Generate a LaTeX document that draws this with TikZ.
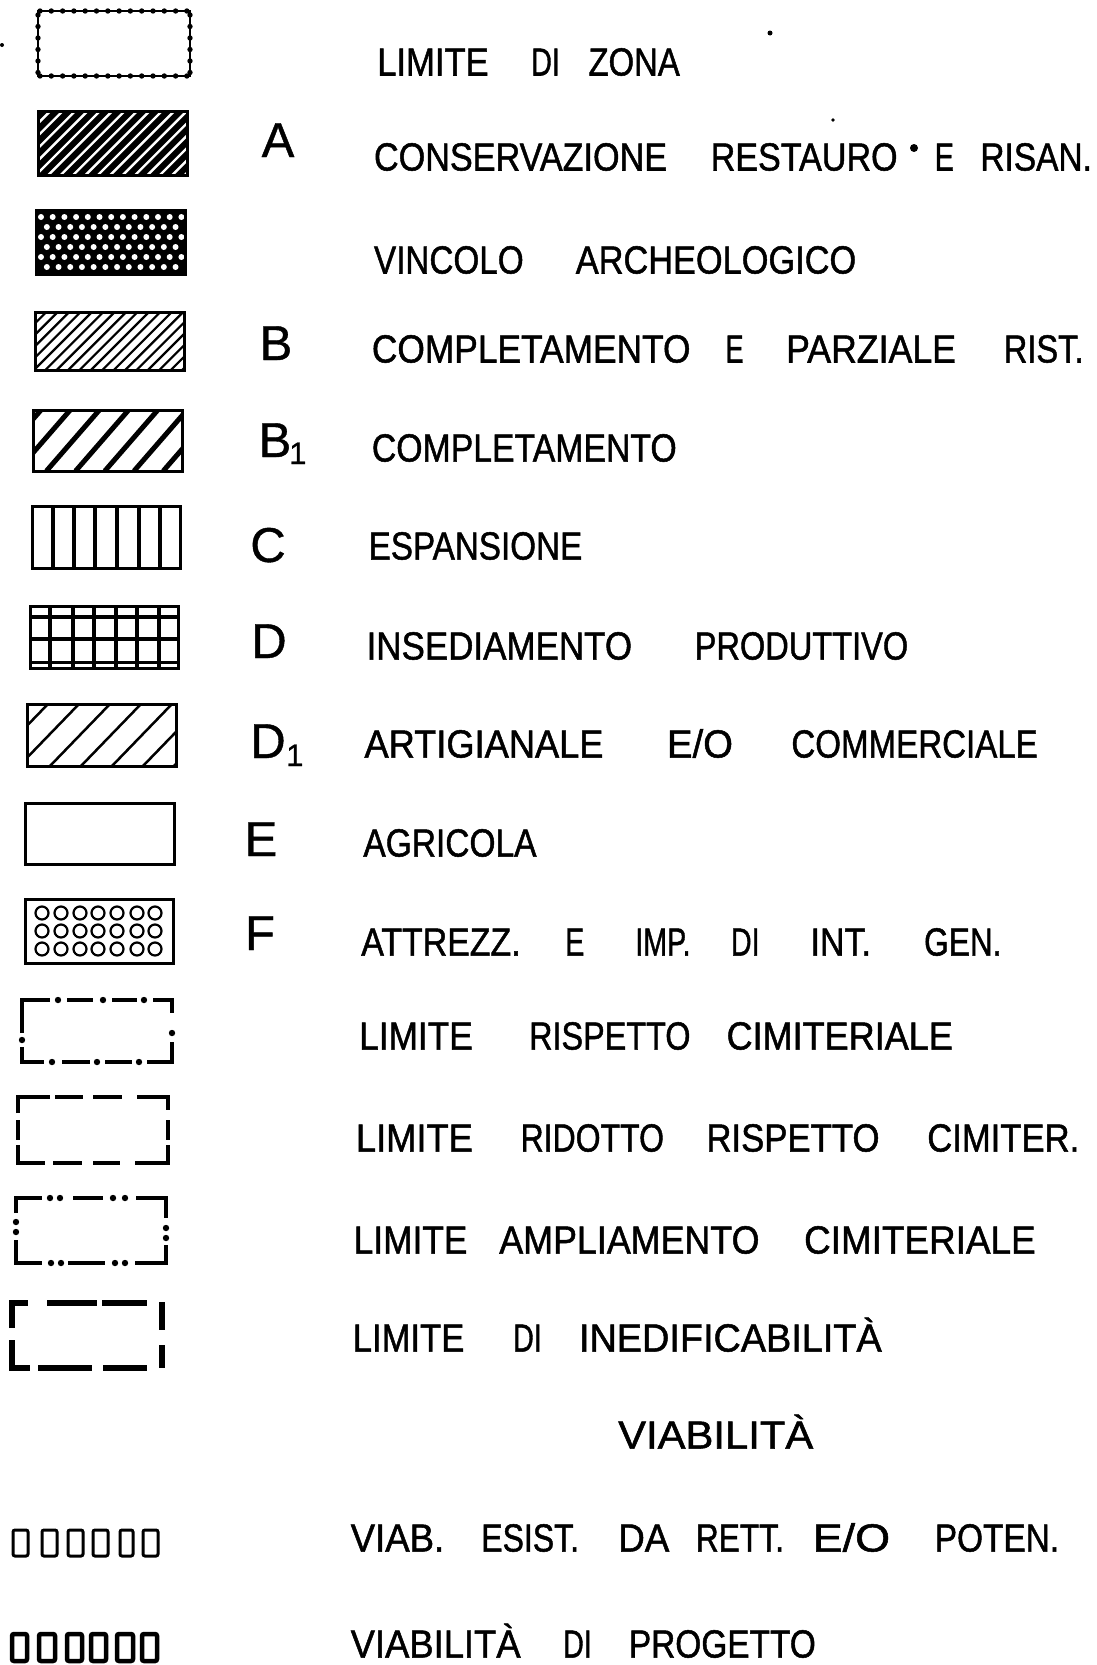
\documentclass[tikz,border=0pt]{standalone}
\usepackage{fontspec}
\usepackage{graphicx}
\setmainfont{Liberation Sans}
\newfontfamily\lblf{Liberation Sans}[FakeBold=1.3]
\newfontfamily\zonef{Liberation Sans}[FakeBold=0.8]
\newcommand\txtsize{\lblf\fontsize{39.2pt}{40pt}\selectfont}
\newcommand\bigsize{\zonef\fontsize{49pt}{50pt}\selectfont}
\newcommand\subsize{\zonef\fontsize{31pt}{32pt}\selectfont}
% word: name, x, width, baseline y, text
\newcommand\wrd[5]{\node[txt] (#1) at (#2,#4) {\resizebox{#3pt}{\height}{#5}};}
\begin{document}
\begin{tikzpicture}[x=1pt,y=-1pt,
  txt/.style={inner sep=0pt, anchor=base west, font=\txtsize},
  zl/.style={inner sep=0pt, anchor=base, font=\bigsize},
  zsub/.style={inner sep=0pt, anchor=base west, font=\subsize},
  bord/.style={line width=3pt, line join=miter},
  lim/.style={line width=4.5pt, line join=miter},
  limb/.style={line width=6pt, line join=miter},
  sq/.style={rounded corners=2pt, line width=3pt},
  sqb/.style={rounded corners=2pt, line width=4.5pt}]
\useasboundingbox (0,0) rectangle (1097,1665);
\fill[white] (0,0) rectangle (1097,1665);

% ---------- symbol 1: limite di zona ----------
\draw[line width=1.8pt] (38,11) rectangle (190,76);
\foreach \k in {0,...,13} \fill ({40+\k*11.3},11) circle (2.7);
\foreach \k in {0,...,13} \fill ({40+\k*11.3},76) circle (2.7);
\foreach \k in {0,...,5} \fill (38,{15+\k*11.5}) circle (2.7);
\foreach \k in {0,...,5} \fill (190,{15+\k*11.5}) circle (2.7);

% ---------- symbol A ----------
\begin{scope}
  \clip (38,111) rectangle (187,175);
  \fill (38,111) rectangle (187,175);
  \foreach \i in {0,...,18} \draw[white, line width=2.4pt] ({-26+\i*12.4},175) -- ++(64,-64);
\end{scope}
\draw[bord] (38,111) rectangle (187,175);

% ---------- vincolo archeologico ----------
\begin{scope}
  \clip (36,210) rectangle (185,274);
  \fill (36,210) rectangle (185,274);
  \foreach \r in {0,...,5} \foreach \c in {0,...,12}
    \fill[white] ({41+\c*11.7+mod(\r,2)*5.85},{217+\r*10}) circle (3);
\end{scope}
\draw[bord] (36,210) rectangle (185,274);

% ---------- symbol B ----------
\begin{scope}
  \clip (35,312) rectangle (184,370);
  \foreach \i in {0,...,18} \draw[line width=2.2pt] ({-23+\i*11.4},370) -- ++(58,-58);
\end{scope}
\draw[bord] (35,312) rectangle (184,370);

% ---------- symbol B1 ----------
\begin{scope}
  \clip (33,410) rectangle (182,471);
  \foreach \i in {0,...,6} \draw[line width=5pt] ({-12+\i*29.2},471) -- ++(53,-61);
\end{scope}
\draw[bord] (33,410) rectangle (182,471);

% ---------- symbol C ----------
\foreach \xx in {53,74,95,117,139,160} \draw[line width=3.5pt] (\xx,506) -- (\xx,568);
\draw[bord] (32,506) rectangle (180,568);

% ---------- symbol D ----------
\foreach \xx in {50,73,94,116,137,159} \draw[line width=4pt] (\xx,606) -- (\xx,668);
\foreach \yy in {617,639} \draw[line width=4pt] (30,\yy) -- (178,\yy);
\draw[line width=3pt] (30,662) -- (178,662);
\draw[bord] (30,606) rectangle (178,668);

% ---------- symbol D1 ----------
\begin{scope}
  \clip (27,704) rectangle (176,766);
  \foreach \i in {0,...,6} \draw[line width=2.5pt] ({-12+\i*31},766) -- ++(60,-62);
\end{scope}
\draw[bord] (27,704) rectangle (176,766);

% ---------- symbol E ----------
\draw[bord] (25,803) rectangle (174,864);

% ---------- symbol F ----------
\foreach \xx in {42,61,80,98,117,137,155}
  \foreach \yy in {913,931,949}
    \draw[line width=2.2pt] (\xx,\yy) circle (6.5);
\draw[bord] (25,899) rectangle (173,963);

% ---------- limite rispetto cimiteriale ----------
\draw[lim] (22,1033) -- (22,1000) -- (50,1000);
\draw[lim] (67,1000) -- (93,1000);
\draw[lim] (112,1000) -- (137,1000);
\draw[lim] (153,1000) -- (172,1000) -- (172,1013);
\foreach \xx in {58,103,144} \fill (\xx,1000) circle (3.2);
\fill (22,1040) circle (3.2);
\fill (172,1033) circle (3.2);
\draw[lim] (22,1047) -- (22,1062) -- (44,1062);
\draw[lim] (62,1062) -- (90,1062);
\draw[lim] (105,1062) -- (132,1062);
\draw[lim] (147,1062) -- (172,1062) -- (172,1042);
\foreach \xx in {52,97,139} \fill (\xx,1062) circle (3.2);

% ---------- limite ridotto rispetto cimiter. ----------
\draw[lim] (18,1113) -- (18,1097) -- (50,1097);
\draw[lim] (55,1097) -- (83,1097);
\draw[lim] (93,1097) -- (122,1097);
\draw[lim] (137,1097) -- (168,1097) -- (168,1110);
\draw[lim] (18,1120) -- (18,1140);
\draw[lim] (168,1120) -- (168,1140);
\draw[lim] (18,1145) -- (18,1163) -- (45,1163);
\draw[lim] (53,1163) -- (82,1163);
\draw[lim] (93,1163) -- (120,1163);
\draw[lim] (135,1163) -- (168,1163) -- (168,1145);

% ---------- limite ampliamento cimiteriale ----------
\draw[lim] (16,1213) -- (16,1198) -- (42,1198);
\foreach \xx in {50,60,113,125} \fill (\xx,1198) circle (3.2);
\draw[lim] (73,1198) -- (103,1198);
\draw[lim] (136,1198) -- (166,1198) -- (166,1218);
\foreach \yy in {1222,1232} \fill (16,\yy) circle (3.2);
\foreach \yy in {1228,1238} \fill (166,\yy) circle (3.2);
\draw[lim] (16,1240) -- (16,1263) -- (42,1263);
\foreach \xx in {51,61,115,125} \fill (\xx,1263) circle (3.2);
\draw[lim] (68,1263) -- (105,1263);
\draw[lim] (135,1263) -- (166,1263) -- (166,1245);

% ---------- limite di inedificabilita ----------
\draw[limb] (12,1328) -- (12,1303) -- (28,1303);
\draw[limb] (47,1303) -- (97,1303);
\draw[limb] (102,1303) -- (147,1303);
\draw[limb] (162,1302) -- (162,1330);
\draw[limb] (12,1340) -- (12,1368) -- (30,1368);
\draw[limb] (38,1368) -- (92,1368);
\draw[limb] (103,1368) -- (147,1368);
\draw[limb] (162,1345) -- (162,1368);

% ---------- viabilita symbols ----------
\foreach \a/\b in {13/28,42/57,68/83,93/108,120/133,143/158}
  \draw[sq] (\a,1530) rectangle (\b,1556);
\foreach \a/\b in {12/27,39/55,67/82,91/106,117/133,142/157}
  \draw[sqb] (\a,1634) rectangle (\b,1661);

% ---------- specks ----------
\fill (914,148) circle (4);
\fill (770,33) circle (2.5);
\fill (833,120) circle (1.8);
\fill (2,45) circle (2);

% ---------- zone letters ----------
\node[zl] (lA) at (278,157) {A};
\node[zl] (lB) at (276,360) {B};
\node[zl] (lB1) at (275,457) {B};
\node[zsub] (sB1) at (289,464) {1};
\node[zl] (lC) at (268,562) {C};
\node[zl] (lD) at (269,658) {D};
\node[zl] (lD1) at (268,758) {D};
\node[zsub] (sD1) at (286,766) {1};
\node[zl] (lE) at (261,856) {E};
\node[zl] (lF) at (260,950) {F};

% ---------- texts ----------
\wrd{t1a}{377}{111.5}{75.5}{LIMITE}
\wrd{t1b}{531}{28.7}{75.5}{DI}
\wrd{t1c}{588.3}{91.3}{75.5}{ZONA}

\wrd{t2a}{373.8}{293.1}{170.5}{CONSERVAZIONE}
\wrd{t2b}{710.5}{186.9}{170.5}{RESTAURO}
\wrd{t2c}{934.6}{19.1}{170.5}{E}
\wrd{t2d}{980.2}{111.5}{170.5}{RISAN.}

\wrd{t3a}{373.8}{149.7}{273.5}{VINCOLO}
\wrd{t3b}{575.6}{280.4}{273.5}{ARCHEOLOGICO}

\wrd{t4a}{371.7}{318.6}{362.5}{COMPLETAMENTO}
\wrd{t4b}{725.3}{18.1}{362.5}{E}
\wrd{t4c}{785.9}{169.9}{362.5}{PARZIALE}
\wrd{t4d}{1003.6}{79.7}{362.5}{RIST.}

\wrd{t5a}{371.7}{304.8}{461.5}{COMPLETAMENTO}

\wrd{t6a}{368.5}{213.5}{559.5}{ESPANSIONE}

\wrd{t7a}{366.4}{265.5}{659.5}{INSEDIAMENTO}
\wrd{t7b}{694.5}{213.5}{659.5}{PRODUTTIVO}

\wrd{t8a}{364.3}{239}{757.5}{ARTIGIANALE}
\wrd{t8b}{666.9}{65.8}{757.5}{E/O}
\wrd{t8c}{791.2}{246.4}{757.5}{COMMERCIALE}

\wrd{t9a}{363.2}{173.1}{856.5}{AGRICOLA}

\wrd{t10a}{361.1}{159.3}{955.5}{ATTREZZ.}
\wrd{t10b}{565}{19.1}{955.5}{E}
\wrd{t10c}{635.1}{55.2}{955.5}{IMP.}
\wrd{t10d}{730.7}{28.7}{955.5}{DI}
\wrd{t10e}{810.3}{60.5}{955.5}{INT.}
\wrd{t10f}{923.9}{77.5}{955.5}{GEN.}

\wrd{t11a}{359}{113.6}{1049.5}{LIMITE}
\wrd{t11b}{528.9}{161.4}{1049.5}{RISPETTO}
\wrd{t11c}{726.4}{226.2}{1049.5}{CIMITERIALE}

\wrd{t12a}{355.8}{116.8}{1151.5}{LIMITE}
\wrd{t12b}{520.4}{143.4}{1151.5}{RIDOTTO}
\wrd{t12c}{706.2}{173.1}{1151.5}{RISPETTO}
\wrd{t12d}{927.1}{151.9}{1151.5}{CIMITER.}

\wrd{t13a}{353.6}{113.6}{1253.5}{LIMITE}
\wrd{t13b}{499.1}{260.2}{1253.5}{AMPLIAMENTO}
\wrd{t13c}{803.9}{231.5}{1253.5}{CIMITERIALE}

\wrd{t14a}{352.6}{111.5}{1351.5}{LIMITE}
\wrd{t14b}{512.9}{28.7}{1351.5}{DI}
\wrd{t14c}{578.8}{302.7}{1351.5}{INEDIFICABILITÀ}

\wrd{t15a}{618}{195}{1448.5}{VIABILITÀ}

\wrd{t16a}{350.5}{93.5}{1551.5}{VIAB.}
\wrd{t16b}{481.1}{97.7}{1551.5}{ESIST.}
\wrd{t16c}{618.1}{51}{1551.5}{DA}
\wrd{t16d}{695.6}{88.1}{1551.5}{RETT.}
\wrd{t16e}{812.4}{77.5}{1551.5}{E/O}
\wrd{t16f}{934.6}{124.3}{1551.5}{POTEN.}

\wrd{t17a}{350.5}{169.9}{1657.5}{VIABILITÀ}
\wrd{t17b}{562.9}{28.7}{1657.5}{DI}
\wrd{t17c}{628.7}{186.9}{1657.5}{PROGETTO}
\end{tikzpicture}
\end{document}
